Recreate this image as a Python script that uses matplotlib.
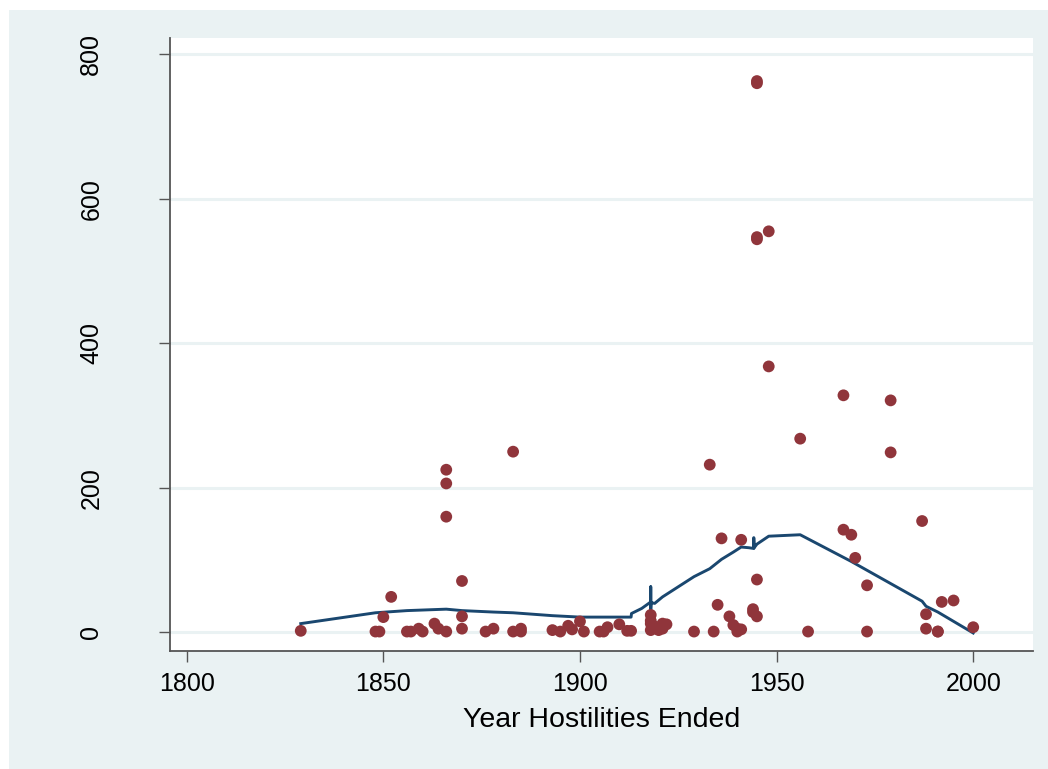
import matplotlib
matplotlib.use("Agg")
import matplotlib.pyplot as plt
from matplotlib.patches import Rectangle

plt.rcParams['font.family'] = ['Liberation Sans', 'DejaVu Sans']

# scatter: year hostilities ended vs. value
years = [1829, 1848, 1849, 1850, 1852, 1856, 1857, 1859, 1860, 1863, 1864,
         1866, 1866, 1866, 1866, 1870, 1870, 1870, 1876, 1878, 1883, 1883,
         1885, 1885, 1893, 1895, 1897, 1898, 1900, 1901, 1905, 1906, 1907,
         1910, 1912, 1913, 1918, 1918, 1918, 1918, 1919, 1920, 1921, 1921,
         1922, 1929, 1933, 1934, 1935, 1936, 1938, 1939, 1940, 1940, 1941,
         1941, 1944, 1944, 1945, 1945, 1945, 1945, 1945, 1945, 1948, 1948,
         1956, 1958, 1967, 1967, 1969, 1970, 1973, 1973, 1979, 1979, 1987,
         1988, 1988, 1991, 1991, 1992, 1995, 2000]
values = [2, 1, 1, 21, 49, 1, 1, 5, 1, 12, 5,
          1, 160, 206, 225, 5, 22, 71, 1, 5, 1, 250,
          5, 1, 3, 1, 9, 4, 15, 1, 1, 1, 7,
          11, 2, 2, 24, 16, 12, 3, 8, 3, 12, 5,
          11, 1, 232, 1, 38, 130, 22, 10, 5, 1, 4,
          128, 32, 28, 22, 73, 544, 547, 760, 763, 555, 368,
          268, 1, 142, 328, 135, 103, 65, 1, 321, 249, 154,
          25, 5, 1, 1, 42, 44, 7]

# fitted line
fit_x = [1829, 1848, 1856, 1866, 1870, 1878, 1883, 1893, 1900, 1913, 1913.1,
         1915.7, 1918, 1918, 1918, 1918.1, 1919, 1921, 1925, 1929, 1933,
         1936, 1939, 1941, 1943, 1944.2, 1944.2, 1944.3, 1945, 1948, 1956,
         1969, 1987, 1988, 1991, 2000]
fit_y = [12, 27, 30, 32, 30, 28, 27, 23, 21, 21, 26,
         33, 42, 63, 31, 41, 40, 49, 63, 77, 88,
         101, 111, 118, 117, 116, 131, 117, 122, 133, 135,
         98, 43, 36, 28, -1]

fig = plt.figure(figsize=(10.48, 7.69), dpi=100, facecolor='white')
fig.patches.append(Rectangle((9 / 1048, 0), 1 - 9 / 1048, 1 - 10 / 769,
                             transform=fig.transFigure, facecolor='#EAF2F3',
                             edgecolor='none', zorder=-10))
ax = fig.add_axes([170 / 1048, 1 - 650.7 / 769, 863 / 1048, 612.7 / 769])
ax.set_facecolor('white')

ax.plot(fit_x, fit_y, color='#1A476F', lw=2.1, zorder=3)
ax.scatter(years, values, s=72, color='#90353B', edgecolors='none', zorder=4)

ax.set_xlim(1795.75, 2015.2)
ax.set_ylim(-25.5, 822.6)
ax.set_xticks([1800, 1850, 1900, 1950, 2000])
ax.set_yticks([0, 200, 400, 600, 800])
ax.yaxis.grid(True, color='#EAF2F3', lw=2.2)
ax.set_axisbelow(True)

for side in ['top', 'right']:
    ax.spines[side].set_visible(False)
for side in ['left', 'bottom']:
    ax.spines[side].set_color('#555555')
    ax.spines[side].set_linewidth(1.3)

ax.tick_params(axis='both', length=8, width=1, color='#555555', labelsize=18)
ax.tick_params(axis='x', pad=7)
ax.tick_params(axis='y', pad=40)
for lab in ax.get_yticklabels():
    lab.set_rotation(90)
    lab.set_va('center')

ax.set_xlabel('Year Hostilities Ended', fontsize=20.5, labelpad=8)

fig.savefig('out.png', dpi=100, facecolor=fig.get_facecolor())
